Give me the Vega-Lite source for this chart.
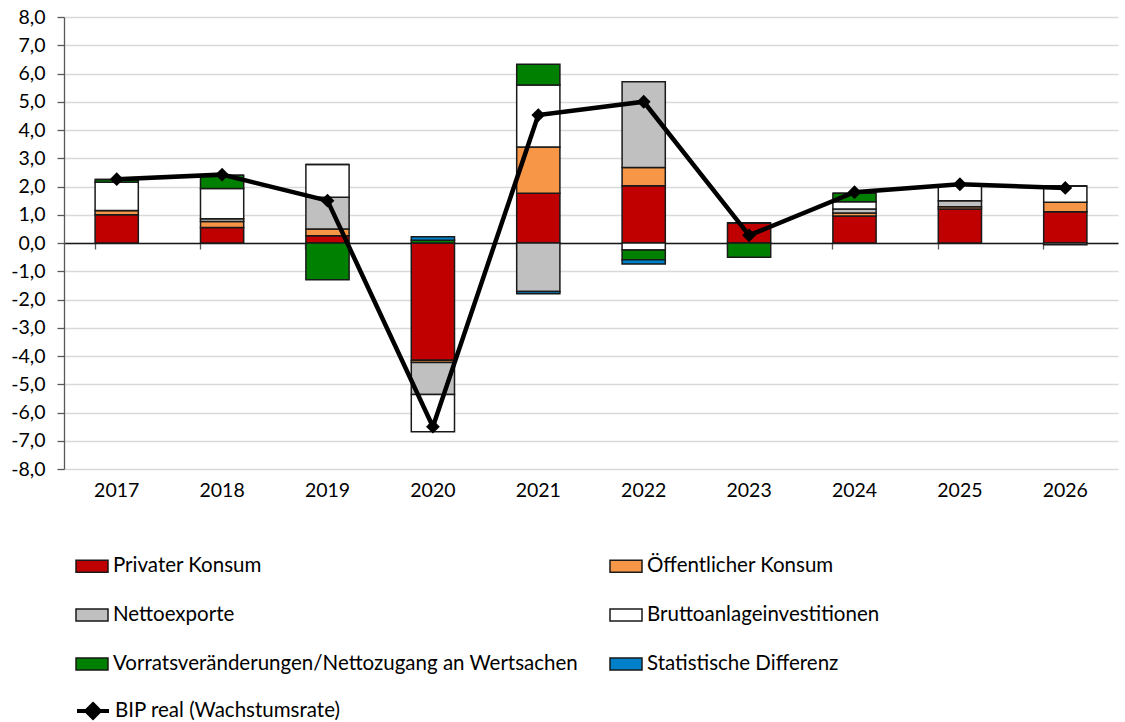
{
  "$schema": "https://vega.github.io/schema/vega-lite/v6.json",
  "width": 1054,
  "height": 452,
  "autosize": {"type": "none"},
  "padding": {"left": 64, "top": 17, "right": 7, "bottom": 253},
  "background": "white",
  "config": {
    "font": "Lato",
    "view": {"stroke": null},
    "axis": {"labelFont": "Lato", "labelFontSize": 19.5, "labelColor": "#000000"},
    "legend": {"labelFont": "Lato", "labelFontSize": 20.5, "labelColor": "#000000"}
  },
  "datasets": {
    "comps": [
      {"year": "2017", "comp": "Privater Konsum", "ord": 1, "value": 1.0},
      {"year": "2017", "comp": "Öffentlicher Konsum", "ord": 2, "value": 0.15},
      {"year": "2017", "comp": "Nettoexporte", "ord": 3, "value": 0.0},
      {"year": "2017", "comp": "Bruttoanlageinvestitionen", "ord": 4, "value": 1.0},
      {"year": "2017", "comp": "Vorratsveränderungen/Nettozugang an Wertsachen", "ord": 5, "value": 0.1},
      {"year": "2017", "comp": "Statistische Differenz", "ord": 6, "value": 0.0},
      {"year": "2018", "comp": "Privater Konsum", "ord": 1, "value": 0.55},
      {"year": "2018", "comp": "Öffentlicher Konsum", "ord": 2, "value": 0.21},
      {"year": "2018", "comp": "Nettoexporte", "ord": 3, "value": 0.1},
      {"year": "2018", "comp": "Bruttoanlageinvestitionen", "ord": 4, "value": 1.07},
      {"year": "2018", "comp": "Vorratsveränderungen/Nettozugang an Wertsachen", "ord": 5, "value": 0.47},
      {"year": "2018", "comp": "Statistische Differenz", "ord": 6, "value": 0.0},
      {"year": "2019", "comp": "Privater Konsum", "ord": 1, "value": 0.26},
      {"year": "2019", "comp": "Öffentlicher Konsum", "ord": 2, "value": 0.24},
      {"year": "2019", "comp": "Nettoexporte", "ord": 3, "value": 1.12},
      {"year": "2019", "comp": "Bruttoanlageinvestitionen", "ord": 4, "value": 1.16},
      {"year": "2019", "comp": "Vorratsveränderungen/Nettozugang an Wertsachen", "ord": 5, "value": -1.3},
      {"year": "2019", "comp": "Statistische Differenz", "ord": 6, "value": 0.0},
      {"year": "2020", "comp": "Privater Konsum", "ord": 1, "value": -4.15},
      {"year": "2020", "comp": "Öffentlicher Konsum", "ord": 2, "value": -0.08},
      {"year": "2020", "comp": "Nettoexporte", "ord": 3, "value": -1.13},
      {"year": "2020", "comp": "Bruttoanlageinvestitionen", "ord": 4, "value": -1.32},
      {"year": "2020", "comp": "Vorratsveränderungen/Nettozugang an Wertsachen", "ord": 5, "value": 0.1},
      {"year": "2020", "comp": "Statistische Differenz", "ord": 6, "value": 0.12},
      {"year": "2021", "comp": "Privater Konsum", "ord": 1, "value": 1.76},
      {"year": "2021", "comp": "Öffentlicher Konsum", "ord": 2, "value": 1.64},
      {"year": "2021", "comp": "Nettoexporte", "ord": 3, "value": -1.72},
      {"year": "2021", "comp": "Bruttoanlageinvestitionen", "ord": 4, "value": 2.19},
      {"year": "2021", "comp": "Vorratsveränderungen/Nettozugang an Wertsachen", "ord": 5, "value": 0.74},
      {"year": "2021", "comp": "Statistische Differenz", "ord": 6, "value": -0.08},
      {"year": "2022", "comp": "Privater Konsum", "ord": 1, "value": 2.03},
      {"year": "2022", "comp": "Öffentlicher Konsum", "ord": 2, "value": 0.64},
      {"year": "2022", "comp": "Nettoexporte", "ord": 3, "value": 3.04},
      {"year": "2022", "comp": "Bruttoanlageinvestitionen", "ord": 4, "value": -0.25},
      {"year": "2022", "comp": "Vorratsveränderungen/Nettozugang an Wertsachen", "ord": 5, "value": -0.34},
      {"year": "2022", "comp": "Statistische Differenz", "ord": 6, "value": -0.15},
      {"year": "2023", "comp": "Privater Konsum", "ord": 1, "value": 0.71},
      {"year": "2023", "comp": "Öffentlicher Konsum", "ord": 2, "value": 0.0},
      {"year": "2023", "comp": "Nettoexporte", "ord": 3, "value": 0.0},
      {"year": "2023", "comp": "Bruttoanlageinvestitionen", "ord": 4, "value": 0.0},
      {"year": "2023", "comp": "Vorratsveränderungen/Nettozugang an Wertsachen", "ord": 5, "value": -0.5},
      {"year": "2023", "comp": "Statistische Differenz", "ord": 6, "value": 0.0},
      {"year": "2024", "comp": "Privater Konsum", "ord": 1, "value": 0.96},
      {"year": "2024", "comp": "Öffentlicher Konsum", "ord": 2, "value": 0.1},
      {"year": "2024", "comp": "Nettoexporte", "ord": 3, "value": 0.14},
      {"year": "2024", "comp": "Bruttoanlageinvestitionen", "ord": 4, "value": 0.26},
      {"year": "2024", "comp": "Vorratsveränderungen/Nettozugang an Wertsachen", "ord": 5, "value": 0.3},
      {"year": "2024", "comp": "Statistische Differenz", "ord": 6, "value": 0.0},
      {"year": "2025", "comp": "Privater Konsum", "ord": 1, "value": 1.2},
      {"year": "2025", "comp": "Öffentlicher Konsum", "ord": 2, "value": 0.08},
      {"year": "2025", "comp": "Nettoexporte", "ord": 3, "value": 0.22},
      {"year": "2025", "comp": "Bruttoanlageinvestitionen", "ord": 4, "value": 0.55},
      {"year": "2025", "comp": "Vorratsveränderungen/Nettozugang an Wertsachen", "ord": 5, "value": 0.0},
      {"year": "2025", "comp": "Statistische Differenz", "ord": 6, "value": 0.0},
      {"year": "2026", "comp": "Privater Konsum", "ord": 1, "value": 1.11},
      {"year": "2026", "comp": "Öffentlicher Konsum", "ord": 2, "value": 0.33},
      {"year": "2026", "comp": "Nettoexporte", "ord": 3, "value": -0.06},
      {"year": "2026", "comp": "Bruttoanlageinvestitionen", "ord": 4, "value": 0.58},
      {"year": "2026", "comp": "Vorratsveränderungen/Nettozugang an Wertsachen", "ord": 5, "value": 0.0},
      {"year": "2026", "comp": "Statistische Differenz", "ord": 6, "value": 0.0}
    ],
    "bip": [
      {"year": "2017", "series": "BIP real (Wachstumsrate)", "value": 2.26},
      {"year": "2018", "series": "BIP real (Wachstumsrate)", "value": 2.42},
      {"year": "2019", "series": "BIP real (Wachstumsrate)", "value": 1.5},
      {"year": "2020", "series": "BIP real (Wachstumsrate)", "value": -6.5},
      {"year": "2021", "series": "BIP real (Wachstumsrate)", "value": 4.53},
      {"year": "2022", "series": "BIP real (Wachstumsrate)", "value": 5.0},
      {"year": "2023", "series": "BIP real (Wachstumsrate)", "value": 0.27},
      {"year": "2024", "series": "BIP real (Wachstumsrate)", "value": 1.8},
      {"year": "2025", "series": "BIP real (Wachstumsrate)", "value": 2.08},
      {"year": "2026", "series": "BIP real (Wachstumsrate)", "value": 1.95}
    ]
  },
  "layer": [
    {
      "data": {"name": "comps"},
      "mark": {"type": "bar", "stroke": "#1a1a1a", "strokeWidth": 1.5},
      "encoding": {
        "x": {
          "field": "year", "type": "ordinal", "title": null,
          "scale": {"paddingInner": 0.59, "paddingOuter": 0.295},
          "axis": {"orient": "bottom", "domain": false, "ticks": false, "labelAngle": 0, "labelPadding": 12, "grid": false}
        },
        "y": {
          "field": "value", "type": "quantitative", "title": null, "stack": "zero",
          "scale": {"domain": [-8, 8], "nice": false, "zero": false},
          "axis": {
            "values": [-8, -7, -6, -5, -4, -3, -2, -1, 0, 1, 2, 3, 4, 5, 6, 7, 8],
            "tickCount": 40,
            "labelOverlap": false,
            "labelExpr": "replace(replace(format(datum.value, '.1f'), '.', ','), '\u2212', '-')",
            "domainColor": "#595959", "domainWidth": 1.3,
            "tickColor": "#595959", "tickSize": 7, "tickWidth": 1.3,
            "labelPadding": 12,
            "gridColor": "#d9d9d9", "gridWidth": 1.5
          }
        },
        "color": {
          "field": "comp", "type": "nominal",
          "scale": {
            "domain": ["Privater Konsum", "Öffentlicher Konsum", "Nettoexporte", "Bruttoanlageinvestitionen", "Vorratsveränderungen/Nettozugang an Wertsachen", "Statistische Differenz"],
            "range": ["#C00000", "#F79646", "#C0C0C0", "#FFFFFF", "#008000", "#0080C8"]
          },
          "legend": {
            "title": null, "orient": "none", "legendX": 11, "legendY": 532,
            "direction": "horizontal",
            "columns": 2, "columnPadding": 28, "rowPadding": 21, "padding": 0,
            "symbolType": "M-1,-0.38H1V0.38H-1Z", "symbolSize": 1024,
            "symbolStrokeColor": "#1a1a1a", "symbolStrokeWidth": 1.5,
            "labelOffset": 4, "labelLimit": 700
          }
        },
        "order": {"field": "ord", "type": "quantitative"}
      }
    },
    {
      "data": {"name": "bip"},
      "mark": {"type": "line", "strokeWidth": 4.5, "strokeJoin": "miter"},
      "encoding": {
        "x": {
          "field": "year", "type": "ordinal", "title": null,
          "axis": {"orient": "bottom", "offset": -226, "labels": false, "domain": true, "domainColor": "#1a1a1a", "domainWidth": 1.3, "ticks": true, "tickColor": "#595959", "tickSize": 6, "tickWidth": 1.3, "bandPosition": 0, "grid": false}
        },
        "y": {
          "field": "value", "type": "quantitative", "title": null,
          "axis": {
            "values": [-8, -7, -6, -5, -4, -3, -2, -1, 0, 1, 2, 3, 4, 5, 6, 7, 8],
            "tickCount": 40,
            "labelOverlap": false,
            "labelExpr": "replace(replace(format(datum.value, '.1f'), '.', ','), '\u2212', '-')",
            "domainColor": "#595959", "domainWidth": 1.3,
            "tickColor": "#595959", "tickSize": 7, "tickWidth": 1.3,
            "labelPadding": 12,
            "gridColor": "#d9d9d9", "gridWidth": 1.5
          }
        },
        "stroke": {
          "field": "series", "type": "nominal",
          "scale": {"range": ["#000000"]},
          "legend": {
            "title": null, "orient": "none", "legendX": 11, "legendY": 676, "padding": 0,
            "symbolType": "M-1,0H1M0,-0.42L0.42,0L0,0.42L-0.42,0Z", "symbolSize": 1024,
            "symbolStrokeColor": "#000000", "symbolFillColor": "#000000", "symbolStrokeWidth": 4,
            "labelOffset": 4, "labelLimit": 700,
            "encode": {"symbols": {"update": {"fill": {"value": "#000000"}}}}
          }
        }
      }
    },
    {
      "data": {"name": "bip"},
      "mark": {"type": "point", "shape": "diamond", "filled": true, "size": 190, "color": "#000000", "opacity": 1},
      "encoding": {
        "x": {"field": "year", "type": "ordinal", "axis": null},
        "y": {
          "field": "value", "type": "quantitative", "title": null,
          "axis": {
            "values": [-8, -7, -6, -5, -4, -3, -2, -1, 0, 1, 2, 3, 4, 5, 6, 7, 8],
            "tickCount": 40,
            "labelOverlap": false,
            "labelExpr": "replace(replace(format(datum.value, '.1f'), '.', ','), '\u2212', '-')",
            "domainColor": "#595959", "domainWidth": 1.3,
            "tickColor": "#595959", "tickSize": 7, "tickWidth": 1.3,
            "labelPadding": 12,
            "gridColor": "#d9d9d9", "gridWidth": 1.5
          }
        }
      }
    }
  ],
  "resolve": {"axis": {"x": "independent"}}
}
